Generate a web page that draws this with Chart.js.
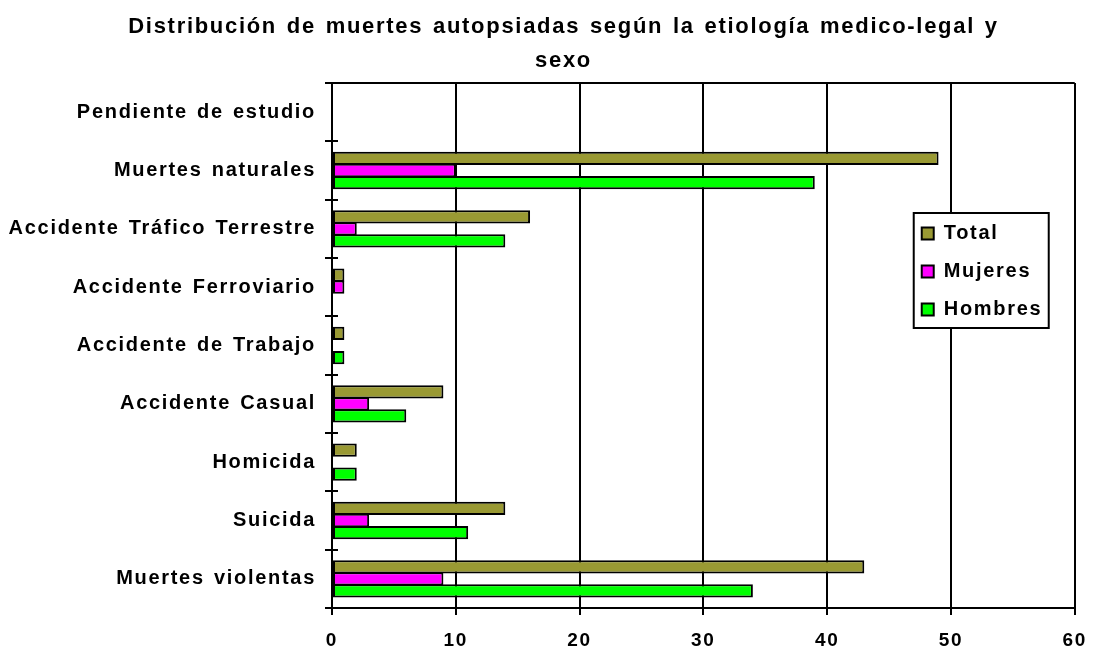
<!DOCTYPE html>
<html>
<head>
<meta charset="utf-8">
<title>Distribución de muertes autopsiadas</title>
<script src="https://cdn.jsdelivr.net/npm/chart.js@4.4.1/dist/chart.umd.min.js"></script>
<style>
  html, body { margin: 0; padding: 0; background: #fff; }
</style>
</head>
<body>
<canvas id="etiologiaChart" width="1101" height="650"></canvas>
<script>
const categories = [
  'Pendiente de estudio',
  'Muertes naturales',
  'Accidente Tráfico Terrestre',
  'Accidente Ferroviario',
  'Accidente de Trabajo',
  'Accidente Casual',
  'Homicida',
  'Suicida',
  'Muertes violentas'
]
const totalValues = [0, 49, 16, 1, 1, 9, 2, 14, 43]
const mujeresValues = [0, 10, 2, 1, 0, 3, 0, 3, 9]
const hombresValues = [0, 39, 14, 0, 1, 6, 2, 11, 34]
const xTickLabels = [0, 10, 20, 30, 40, 50, 60]

const fontFamily = "Arial, 'Liberation Sans', sans-serif"

// the old excel picture has wide letter spacing
const setSpacing = (chart) => {
  chart.ctx.letterSpacing = '1.7px'
  chart.ctx.wordSpacing = '2px'
}

const framePlugin = {
  id: 'frame',
  beforeUpdate: setSpacing,
  beforeLayout: setSpacing,
  beforeDraw: setSpacing,
  afterLayout(chart) {
    // title is centred a bit right of the canvas middle
    chart.titleBlock.left += 22
    chart.titleBlock.right += 17
    // move the legend into the plot, right side
    const area = chart.chartArea
    const legend = chart.legend
    legend.left = area.right - 171
    legend.top = area.top + 122.5
    legend.right = legend.left + 160
    legend.bottom = area.bottom
  },
  afterDraw(chart) {
    const ctx = chart.ctx
    const area = chart.chartArea
    const yScale = chart.scales.y
    ctx.save()
    ctx.strokeStyle = '#000'
    ctx.lineWidth = 2
    ctx.beginPath()
    ctx.moveTo(area.left, area.top)
    ctx.lineTo(area.right, area.top)
    // tick marks cross the axis
    for (let i = 0; i <= categories.length; i++) {
      const py = Math.round(yScale.getPixelForValue(i - 0.5))
      ctx.moveTo(area.left, py)
      ctx.lineTo(area.left + 6, py)
    }
    ctx.stroke()
    // legend frame
    const bx = area.right - 161, by = area.top + 130, bw = 135, bh = 115
    ctx.fillStyle = '#fff'
    ctx.fillRect(bx, by, bw, bh)
    ctx.lineWidth = 2
    ctx.strokeRect(bx, by, bw, bh)
    ctx.restore()
    chart.legend.draw()
  }
}

const makeChart = () => {
  Chart.defaults.color = '#000'
  Chart.defaults.font.family = fontFamily
  var ctx = document.getElementById('etiologiaChart').getContext('2d')
  var barChart = new Chart(ctx, {
    type: 'bar',
    data: {
      labels: categories,
      datasets: [
        { label: 'Total', data: totalValues, backgroundColor: '#999933' },
        { label: 'Mujeres', data: mujeresValues, backgroundColor: '#FF00FF' },
        { label: 'Hombres', data: hombresValues, backgroundColor: '#00FF00' }
      ]
    },
    options: {
      indexAxis: 'y',
      responsive: false,
      animation: false,
      events: [],
      layout: {
        padding: { left: 4, right: 17, top: 0, bottom: 0 }
      },
      datasets: {
        bar: {
          borderColor: '#000',
          borderWidth: 2,
          borderSkipped: false,
          categoryPercentage: 0.62,
          barPercentage: 1.1
        }
      },
      scales: {
        x: {
          min: xTickLabels[0],
          max: xTickLabels[xTickLabels.length - 1],
          afterBuildTicks: (axis) => {
            axis.ticks = xTickLabels.map(v => ({ value: v }))
          },
          afterFit: (scale) => { scale.height = 42 },
          grid: {
            color: '#000',
            lineWidth: 2,
            tickLength: 7
          },
          border: { color: '#000', width: 2 },
          ticks: {
            padding: 14,
            font: { size: 19, weight: 'bold' }
          }
        },
        y: {
          afterFit: (scale) => { scale.width = 328 },
          grid: {
            drawOnChartArea: false,
            color: '#000',
            lineWidth: 2,
            tickLength: 7
          },
          border: { color: '#000', width: 2 },
          ticks: {
            padding: 9,
            font: { size: 20, weight: 'bold' }
          }
        }
      },
      plugins: {
        tooltip: { enabled: false },
        title: {
          display: true,
          text: ['Distribución de muertes autopsiadas según la etiología medico-legal y', 'sexo'],
          font: { size: 22, weight: 'bold', lineHeight: 34 / 22 },
          padding: { top: 10, bottom: 5 }
        },
        legend: {
          display: true,
          position: 'chartArea',
          align: 'start',
          labels: {
            boxWidth: 12,
            boxHeight: 12,
            padding: 18,
            font: { size: 20, weight: 'bold' }
          }
        }
      }
    },
    plugins: [framePlugin]
  })
  return barChart
}

const chart = makeChart()
</script>
</body>
</html>
